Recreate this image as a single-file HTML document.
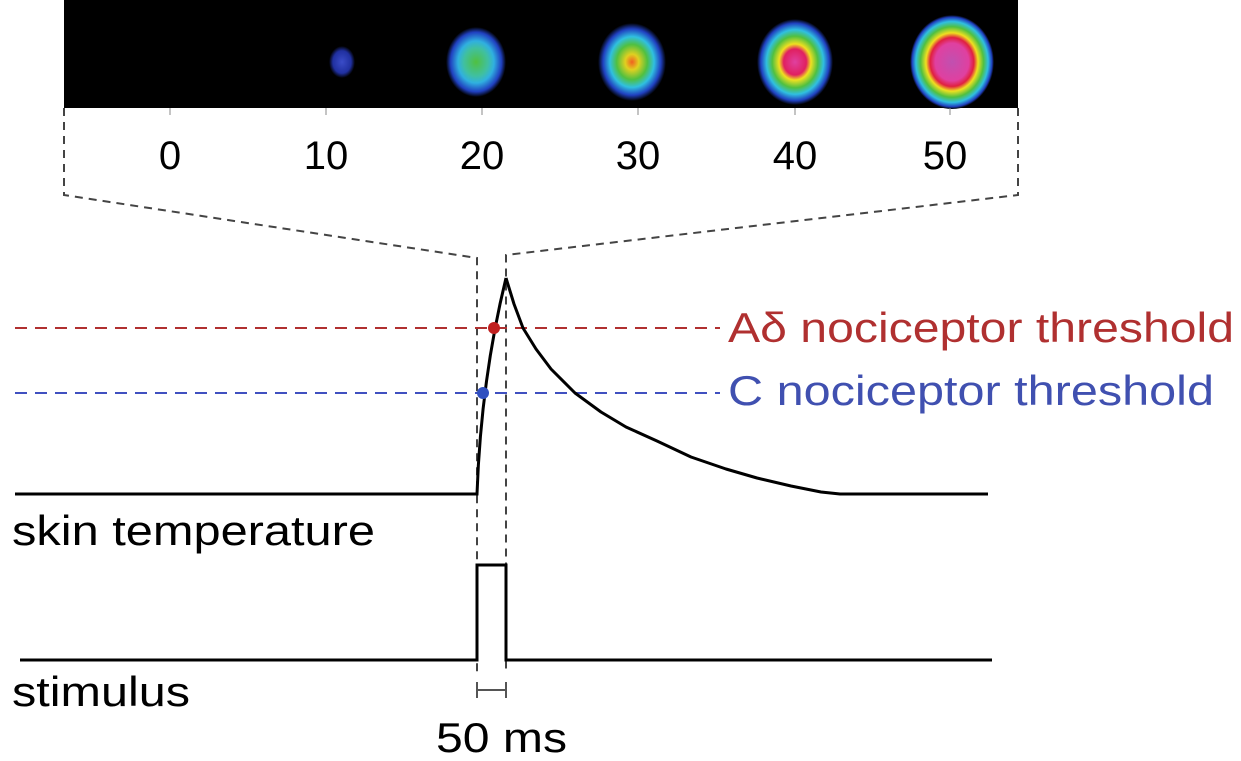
<!DOCTYPE html>
<html><head><style>
body{margin:0;background:#fff}
svg{display:block}
text{font-family:"Liberation Sans",sans-serif}
</style></head><body>
<svg width="1241" height="761" viewBox="0 0 1241 761">
<defs>
<radialGradient id="g1"><stop offset="0" stop-color="#3a4cc8"/><stop offset="0.7" stop-color="#2030a0"/><stop offset="1" stop-color="#000"/></radialGradient>
<radialGradient id="g2"><stop offset="0" stop-color="#50c040"/><stop offset="0.4" stop-color="#40c0a0"/><stop offset="0.6" stop-color="#30b0e0"/><stop offset="0.85" stop-color="#2040c0"/><stop offset="1" stop-color="#000"/></radialGradient>
<radialGradient id="g3"><stop offset="0" stop-color="#f06020"/><stop offset="0.2" stop-color="#e0d020"/><stop offset="0.45" stop-color="#50c040"/><stop offset="0.65" stop-color="#30c0e0"/><stop offset="0.85" stop-color="#2040c0"/><stop offset="1" stop-color="#000"/></radialGradient>
<radialGradient id="g4"><stop offset="0" stop-color="#e040a0"/><stop offset="0.3" stop-color="#e02060"/><stop offset="0.42" stop-color="#f0e020"/><stop offset="0.6" stop-color="#50c040"/><stop offset="0.75" stop-color="#30c0e0"/><stop offset="0.9" stop-color="#2040c0"/><stop offset="1" stop-color="#000"/></radialGradient>
<radialGradient id="g5"><stop offset="0" stop-color="#c050b0"/><stop offset="0.4" stop-color="#e040a0"/><stop offset="0.52" stop-color="#e02040"/><stop offset="0.62" stop-color="#f0e020"/><stop offset="0.75" stop-color="#50c040"/><stop offset="0.86" stop-color="#30c0e0"/><stop offset="0.95" stop-color="#2040c0"/><stop offset="1" stop-color="#000"/></radialGradient>
</defs>
<rect x="64" y="0" width="954" height="108" fill="#000"/>
<ellipse cx="342" cy="62" rx="13" ry="16" fill="url(#g1)"/>
<ellipse cx="476" cy="62" rx="30" ry="35" fill="url(#g2)"/>
<ellipse cx="632" cy="62" rx="34" ry="39" fill="url(#g3)"/>
<ellipse cx="795" cy="62" rx="38" ry="43" fill="url(#g4)"/>
<ellipse cx="952" cy="62" rx="42" ry="47" fill="url(#g5)"/>
<g stroke="#888" stroke-width="1">
<line x1="170" y1="108" x2="170" y2="115"/><line x1="326" y1="108" x2="326" y2="115"/><line x1="482" y1="108" x2="482" y2="115"/><line x1="638" y1="108" x2="638" y2="115"/><line x1="795" y1="108" x2="795" y2="115"/><line x1="950" y1="108" x2="950" y2="115"/>
</g>
<g font-size="40" text-anchor="middle" fill="#000">
<text x="170" y="169">0</text><text x="326" y="169">10</text><text x="482" y="169">20</text><text x="638" y="169">30</text><text x="795" y="169">40</text><text x="945" y="169">50</text>
</g>
<g fill="none" stroke="#444" stroke-width="2" stroke-dasharray="8,6">
<polyline points="64,108 64,195 477,258 477,672"/>
<polyline points="1018,108 1018,195 506,255 506,672"/>
</g>
<line x1="15" y1="328" x2="720" y2="328" stroke="#b03030" stroke-width="2" stroke-dasharray="12,8"/>
<line x1="15" y1="393" x2="720" y2="393" stroke="#4050c0" stroke-width="2" stroke-dasharray="12,8"/>
<path d="M15,494 L477,494 Q481,380 506,278" fill="none" stroke="#000" stroke-width="3"/>
<polyline points="506,278 514,304 523,328 536,349 551,369 575,393 601,412 626,427 657,441 691,457 726,469 757,478 791,486 821,492 840,494 988,494" fill="none" stroke="#000" stroke-width="3" stroke-linejoin="round"/>
<circle cx="494" cy="328" r="6" fill="#c02020"/>
<circle cx="483" cy="393" r="6" fill="#3050c0"/>
<path d="M20,660 L477,660 L477,565 L506,565 L506,660 L992,660" fill="none" stroke="#000" stroke-width="3"/>
<g stroke="#555" stroke-width="2"><line x1="477" y1="690" x2="506" y2="690"/><line x1="477" y1="682" x2="477" y2="698"/><line x1="506" y1="682" x2="506" y2="698"/></g>
<text x="728" y="342" font-size="42" fill="#b03030" textLength="506" lengthAdjust="spacingAndGlyphs">Aδ nociceptor threshold</text>
<text x="728" y="405" font-size="42" fill="#4050b0" textLength="486" lengthAdjust="spacingAndGlyphs">C nociceptor threshold</text>
<text x="12" y="545" font-size="42" textLength="363" lengthAdjust="spacingAndGlyphs">skin temperature</text>
<text x="12" y="706" font-size="42" textLength="178" lengthAdjust="spacingAndGlyphs">stimulus</text>
<text x="436" y="752" font-size="42" textLength="131" lengthAdjust="spacingAndGlyphs">50 ms</text>
</svg>
</body></html>
